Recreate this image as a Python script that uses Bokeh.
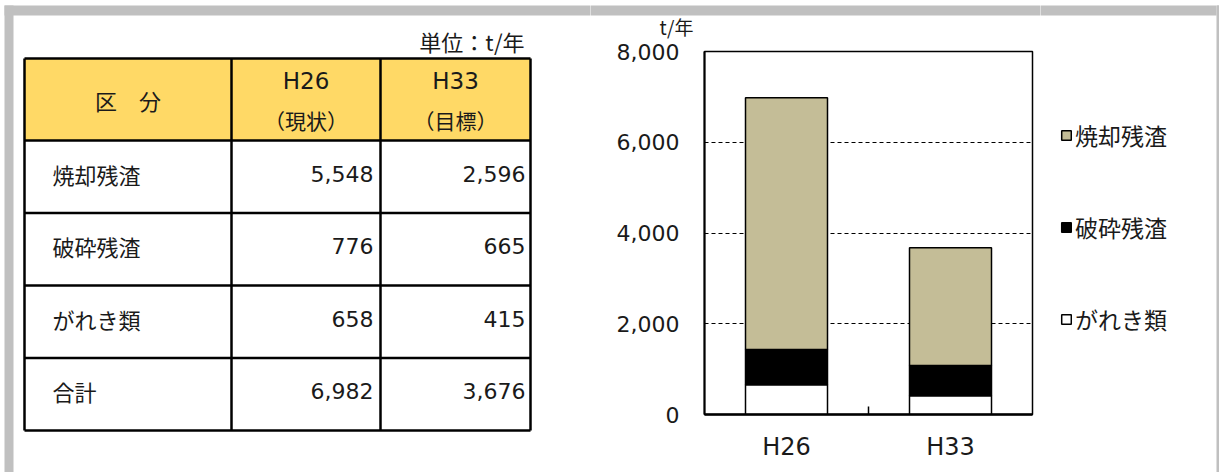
from math import pi

import numpy as np
from bokeh.core.properties import value
from bokeh.embed import file_html
from bokeh.layouts import column, row
from bokeh.models import (ColumnDataSource, FactorRange, FixedTicker, Legend,
                          LegendItem, NumeralTickFormatter, Range1d)
from bokeh.plotting import figure
from bokeh.resources import INLINE

# ---- data -------------------------------------------------------------
categories = ["焼却残渣", "破砕残渣", "がれき類"]
years = ["H26", "H33"]
year_notes = ["（現状）", "（目標）"]
h26 = [5548, 776, 658]
h33 = [2596, 665, 415]
y_ticks = [0, 2000, 4000, 6000, 8000]
unit_label = "単位：t/年"
axis_unit = "t/年"
total_label = "合計"
header_label = "区　分"

# ---- styling ----------------------------------------------------------
CJK = "Noto Sans CJK JP"
NUM = "DejaVu Sans"
INK = "#1a1a1a"
FRAME_GRAY = "#c0c0c0"
HEADER_FILL = "#ffd966"
colors = {"焼却残渣": "#c4bd97", "破砕残渣": "#000000", "がれき類": "#ffffff"}

W, H = 1219, 472
BAND_TOP, BAND_BOT = 5, 15   # gray frame band along the top
SPLIT = 590                  # table panel | chart
CHART_END = 1040             # chart | legend panel
EDGE = 1216                  # legend panel | gray right edge
CAPTION_END = 40             # bottom of the caption strip above the chart


def bare(fig):
    fig.axis.visible = False
    fig.grid.visible = False
    fig.outline_line_color = None
    fig.min_border = 0
    return fig


def panel(x0, x1, y0, y1):
    """Figure whose data space is the page's own pixel grid, with its share of the top band."""
    fig = bare(figure(width=x1 - x0, height=y1 - y0, x_range=Range1d(x0, x1),
                      y_range=Range1d(y1, y0), output_backend="svg",
                      toolbar_location=None, frame_align=False))
    left = 4 if x0 < 4 else x0 - 3
    fig.quad(left=[left], right=[x1 + 3], top=[BAND_TOP], bottom=[BAND_BOT],
             fill_color=FRAME_GRAY, line_color=None)
    return fig


# ---- table panel -------------------------------------------------------
tbl = panel(0, SPLIT, 0, H)
tbl.quad(left=[4], right=[13], top=[BAND_TOP], bottom=[H + 3], fill_color=FRAME_GRAY,
         line_color=None)

col_x = [24, 231, 380, 530]
head_top, head_bot, tbl_bot = 58, 140, 430
n_rows = len(categories) + 1
row_h = (tbl_bot - head_bot) / n_rows
row_y = [head_bot + i * row_h for i in range(n_rows + 1)]

tbl.quad(left=[col_x[0]], right=[col_x[-1]], top=[head_top], bottom=[head_bot],
         fill_color=HEADER_FILL, line_color=None)

h_lines = [head_top] + row_y
tbl.segment(x0=[col_x[0]] * len(h_lines), x1=[col_x[-1]] * len(h_lines),
            y0=h_lines, y1=h_lines, line_color="black", line_width=2.5)
tbl.segment(x0=col_x, x1=col_x, y0=[head_top] * len(col_x), y1=[tbl_bot] * len(col_x),
            line_color="black", line_width=2.5)

tbl.text(x=[col_x[-1] - 6], y=[40], text=[unit_label], text_align="right",
         text_baseline="middle", text_font=value(CJK), text_font_size=value("22px"),
         text_color=INK)

head_mid = (head_top + head_bot) / 2
col_mid = [(col_x[i] + col_x[i + 1]) / 2 for i in range(3)]
tbl.text(x=[col_mid[0]], y=[head_mid], text=[header_label], text_align="center",
         text_baseline="middle", text_font=value(CJK), text_font_size=value("22px"),
         text_color=INK)
tbl.text(x=col_mid[1:], y=[head_mid - 19] * 2, text=years, text_align="center",
         text_baseline="middle", text_font=value(NUM), text_font_size=value("23px"),
         text_color=INK)
tbl.text(x=col_mid[1:], y=[head_mid + 20] * 2, text=year_notes, text_align="center",
         text_baseline="middle", text_font=value(CJK), text_font_size=value("21px"),
         text_color=INK)

row_labels = categories + [total_label]
col26 = h26 + [sum(h26)]
col33 = h33 + [sum(h33)]
row_mid = [(row_y[i] + row_y[i + 1]) / 2 - 3 for i in range(n_rows)]
tbl.text(x=[52] * n_rows, y=row_mid, text=row_labels, text_align="left",
         text_baseline="middle", text_font=value(CJK), text_font_size=value("22px"),
         text_color=INK)
tbl.text(x=[col_x[2] - 7] * n_rows, y=row_mid, text=[f"{v:,}" for v in col26],
         text_align="right", text_baseline="middle", text_font=value(NUM),
         text_font_size=value("22px"), text_color=INK)
tbl.text(x=[col_x[3] - 5] * n_rows, y=row_mid, text=[f"{v:,}" for v in col33],
         text_align="right", text_baseline="middle", text_font=value(NUM),
         text_font_size=value("22px"), text_color=INK)

# ---- caption above the value axis --------------------------------------
cap = panel(SPLIT, CHART_END, 0, CAPTION_END)
cap.text(x=[676], y=[26], text=[axis_unit], text_align="center", text_baseline="middle",
         text_font=value(CJK), text_font_size=value("19px"), text_color=INK)

# ---- stacked bar chart -------------------------------------------------
stack_order = categories[::-1]          # bottom to top
data = {"year": years}
for i, cat in enumerate(categories):
    data[cat] = [h26[i], h33[i]]
source = ColumnDataSource(data)

p = figure(width=CHART_END - SPLIT, height=H - CAPTION_END,
           x_range=FactorRange(factors=years, range_padding=0),
           y_range=Range1d(y_ticks[0], y_ticks[-1]),
           output_backend="svg", toolbar_location=None, frame_align=False,
           min_border_left=114, min_border_right=8, min_border_top=11, min_border_bottom=58)
p.background_fill_color = "white"
p.border_fill_color = "white"
p.outline_line_color = "black"
p.outline_line_width = 1.5

p.yaxis.ticker = FixedTicker(ticks=y_ticks)
p.yaxis.formatter = NumeralTickFormatter(format="0,0")
p.yaxis.major_tick_line_color = None
p.yaxis.minor_tick_line_color = None
p.yaxis.axis_line_width = 2
p.yaxis.major_label_standoff = 19
p.yaxis.major_label_text_font = NUM
p.yaxis.major_label_text_font_size = "22px"
p.yaxis.major_label_text_color = INK

p.xaxis.major_tick_line_color = None
p.xaxis.axis_line_width = 2.5
p.xaxis.major_label_standoff = 12
p.xaxis.major_label_text_font = NUM
p.xaxis.major_label_text_font_size = "24px"
p.xaxis.major_label_text_color = INK

p.xgrid.visible = False
p.ygrid.ticker = FixedTicker(ticks=y_ticks[1:-1])
p.ygrid.grid_line_color = "black"
p.ygrid.grid_line_dash = "4 3"
p.ygrid.grid_line_width = 1.2

bars = p.vbar_stack(stack_order, x="year", width=0.5, source=source,
                    fill_color=[colors[c] for c in stack_order],
                    line_color="black", line_width=1.5)

# small divider tick between the categories on the baseline
dividers = ColumnDataSource(dict(x=[float(i) for i in range(1, len(years))],
                                 y=[y_ticks[0]] * (len(years) - 1)))
p.ray(x="x", y="y", length=8, angle=pi / 2, length_units="screen",
      line_color="black", line_width=1.5, source=dividers)

# ---- legend panel ------------------------------------------------------
leg = panel(CHART_END, EDGE, 0, H)
swatches = {}
for cat in categories:
    # key-only renderer: a single undrawn (NaN height) bar carrying the style
    swatches[cat] = leg.vbar(x=np.array([float(CHART_END)]), top=np.array([np.nan]),
                             width=1, fill_color=colors[cat],
                             line_color="black", line_width=1.5)
legend = Legend(items=[LegendItem(label=c, renderers=[swatches[c]]) for c in categories],
                location=(20, 136), orientation="vertical",
                glyph_width=12, glyph_height=12, label_standoff=3,
                label_height=30, spacing=58, padding=0, margin=0,
                border_line_alpha=0, background_fill_alpha=0,
                label_text_font=CJK, label_text_font_size="23px",
                label_text_color=INK)
leg.add_layout(legend)

# ---- right edge of the gray frame --------------------------------------
edge = panel(EDGE, W, 0, H)
edge.quad(left=[EDGE - 3], right=[W + 3], top=[BAND_TOP], bottom=[H + 3],
          fill_color=FRAME_GRAY, line_color=None)

layout = row(tbl, column(cap, p, spacing=0), leg, edge, spacing=0)

open("out.html", "w").write(file_html(layout, INLINE))
